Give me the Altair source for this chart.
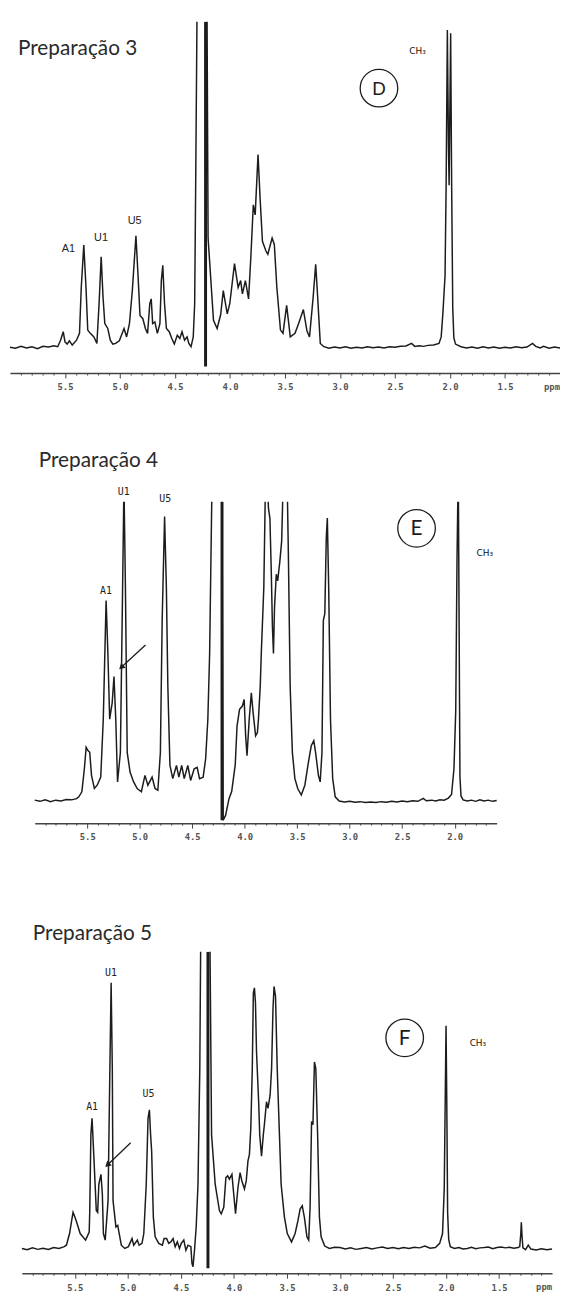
import altair as alt
import pandas as pd

# ---------------- data ----------------
# Panel D (Preparação 3): chemical shift (ppm) and relative intensity (clip level = 100)
D_ppm = [6.00, 5.95, 5.90, 5.85, 5.80, 5.75, 5.70, 5.65, 5.60, 5.566, 5.54, 5.516, 5.50, 5.48, 5.46, 5.434,
         5.395, 5.368, 5.352, 5.329, 5.309, 5.293, 5.27, 5.237, 5.21, 5.19, 5.171, 5.154, 5.138, 5.111,
         5.088, 5.065, 5.039, 5.006, 4.963, 4.94, 4.914, 4.888, 4.855, 4.835, 4.818, 4.792, 4.769, 4.749,
         4.729, 4.716, 4.703, 4.683, 4.66, 4.637, 4.624, 4.611, 4.595, 4.578, 4.552, 4.529, 4.506, 4.479,
         4.456, 4.436, 4.413, 4.39, 4.374, 4.354, 4.334, 4.321, 4.311, 4.298, 4.26, 4.23, 4.209, 4.199,
         4.15, 4.117, 4.085, 4.061, 4.025, 4.002, 3.959, 3.926, 3.903, 3.887, 3.86, 3.831, 3.81, 3.788,
         3.771, 3.745, 3.725, 3.705, 3.673, 3.656, 3.617, 3.597, 3.574, 3.541, 3.518, 3.485, 3.452, 3.409,
         3.376, 3.333, 3.30, 3.277, 3.244, 3.221, 3.208, 3.179, 3.146, 3.10, 3.05, 3.00, 2.95, 2.90, 2.85,
         2.80, 2.75, 2.70, 2.65, 2.60, 2.55, 2.50, 2.45, 2.40, 2.35, 2.32, 2.28, 2.24, 2.20, 2.15, 2.10,
         2.08, 2.065, 2.045, 2.035, 2.024, 2.014, 2.008, 2.002, 1.994, 1.985, 1.975, 1.965, 1.95, 1.90,
         1.85, 1.80, 1.75, 1.70, 1.65, 1.60, 1.55, 1.50, 1.45, 1.40, 1.35, 1.30, 1.25, 1.22, 1.18, 1.15,
         1.10, 1.05, 1.00]
D_int = [0.0, -0.3, 0.3, -0.2, 0.2, -0.4, 0.3, 0.1, 0.5, 0.2, 2.2, 4.8, 1.7, 1.0, 2.0, 0.7,
         2.2, 4.3, 18.4, 31.4, 18.4, 5.3, 4.3, 3.2, 1.2, 13.4, 27.8, 15.4, 7.3, 5.8,
         2.2, 1.0, 1.2, 2.0, 5.8, 3.2, 7.3, 17.4, 34.3, 21.5, 9.8, 8.8, 5.8, 4.3,
         13.4, 14.9, 7.3, 7.8, 4.3, 7.3, 20.5, 25.2, 13.4, 5.8, 4.8, 2.7, 1.0, 3.7,
         2.7, 4.8, 2.2, 3.2, 1.2, 0.2, 3.2, 13.4, 53.9, 110, 250, 250, 105, 33.6,
         8.3, 5.8, 10.0, 17.4, 10.3, 13.4, 25.7, 18.4, 20.5, 16.4, 20.5, 14.9, 28.0, 43.8,
         40.7, 59.2, 45.0, 32.6, 29.6, 28.6, 33.6, 31.6, 18.4, 5.3, 4.3, 12.9, 3.2, 4.3,
         7.3, 11.6, 5.0, 3.2, 15.4, 25.5, 18.4, 1.2, 0.2, -0.3, 0.1, -0.2, 0.2, -0.3, 0.0,
         -0.2, 0.2, -0.1, 0.1, -0.2, 0.2, 0.0, 0.3, 0.4, 1.2, 0.3, 0.5, 0.3, 0.6, 0.7, 1.2,
         3.2, 10.3, 22.0, 50.0, 97.5, 62.0, 49.8, 70.0, 96.5, 50.0, 12.0, 3.0, 1.0, 0.2,
         -0.2, 0.1, -0.3, 0.2, -0.2, 0.1, -0.3, 0.0, -0.2, 0.2, -0.1, 0.1, 1.2, 0.3, -0.2, 0.3,
         -0.3, 0.1, -0.2]

# Panel E (Preparação 4)
E_ppm = [6.00, 5.95, 5.90, 5.85, 5.80, 5.75, 5.70, 5.65, 5.60, 5.58, 5.551, 5.527, 5.51, 5.493, 5.476,
         5.459, 5.432, 5.405, 5.371, 5.347, 5.32, 5.303, 5.286, 5.262, 5.245, 5.228, 5.211, 5.184, 5.167,
         5.15, 5.136, 5.119, 5.092, 5.058, 5.024, 4.984, 4.95, 4.922, 4.882, 4.854, 4.827, 4.803, 4.786,
         4.763, 4.746, 4.732, 4.712, 4.685, 4.65, 4.627, 4.60, 4.576, 4.542, 4.515, 4.481, 4.453, 4.43,
         4.396, 4.372, 4.351, 4.334, 4.31, 4.27, 4.235, 4.218, 4.205, 4.182, 4.15, 4.124, 4.09, 4.073,
         4.049, 4.022, 4.005, 3.991, 3.978, 3.957, 3.937, 3.92, 3.896, 3.879, 3.869, 3.852, 3.842, 3.818,
         3.808, 3.801, 3.784, 3.774, 3.76, 3.747, 3.736, 3.726, 3.716, 3.699, 3.686, 3.665, 3.648, 3.631,
         3.597, 3.584, 3.567, 3.546, 3.522, 3.495, 3.461, 3.427, 3.393, 3.366, 3.342, 3.325, 3.298, 3.281,
         3.264, 3.251, 3.237, 3.223, 3.213, 3.20, 3.183, 3.162, 3.138, 3.10, 3.05, 3.00, 2.95, 2.90, 2.85,
         2.80, 2.75, 2.70, 2.65, 2.60, 2.55, 2.50, 2.45, 2.40, 2.35, 2.30, 2.27, 2.22, 2.18, 2.14, 2.10,
         2.06, 2.03, 2.007, 1.99, 1.978, 1.966, 1.958, 1.95, 1.94, 1.92, 1.88, 1.84, 1.80, 1.76, 1.72,
         1.68, 1.64, 1.60]
E_int = [0.1, -0.3, 0.2, -0.4, 0.1, -0.2, 0.3, 0.2, 0.6, 1.2, 2.9, 10.6, 17.8, 16.7, 16.1,
         8.4, 4.0, 5.1, 7.8, 27.2, 66.9, 49.2, 27.2, 32.7, 41.5, 27.2, 6.2, 16.1, 60.3,
         106, 71.3, 16.1, 9.5, 6.2, 4.0, 2.9, 8.4, 5.1, 7.8, 4.0, 3.4, 16.1, 60.3,
         95.0, 71.3, 38.2, 11.7, 7.3, 11.7, 7.8, 11.7, 7.3, 11.7, 6.7, 10.6, 11.1, 7.3,
         7.8, 13.9, 27.2, 49.2, 110, 200, 200, 120, -6.6, -5.0, 0.5, 3.0, 12.0, 24.9,
         30.5, 31.6, 33.8, 21.6, 15.0, 27.2, 36.0, 29.4, 21.6, 22.7, 27.2, 38.2, 49.2, 71.3,
         93.4, 110, 110, 97.8, 94.5, 76.8, 58.1, 49.2, 64.7, 75.7, 73.5, 80.1, 86.8, 110,
         110, 82.3, 38.2, 16.1, 7.3, 4.0, 1.8, 5.1, 12.8, 18.3, 20.0, 16.1, 8.4, 6.2,
         16.1, 60.3, 62.5, 87.9, 94.5, 71.3, 27.2, 7.3, 1.2, -0.2, -0.5, -0.3, -0.6, -0.4, -0.7,
         -0.5, -0.7, -0.4, -0.6, -0.3, -0.5, -0.2, -0.4, -0.1, -0.3, 0.7, -0.1, 0.1, -0.2, 0.2, 0.1,
         0.8, 2.0, 10.6, 30.0, 80.0, 112, 60.0, 8.0, 1.5, 0.2, -0.2, 0.1, -0.3, 0.2, -0.2,
         0.1, -0.3, 0.0]

# Panel F (Preparação 5)
F_ppm = [6.00, 5.95, 5.90, 5.85, 5.80, 5.75, 5.70, 5.65, 5.60, 5.58, 5.55, 5.53, 5.517, 5.50, 5.483,
         5.45, 5.399, 5.365, 5.36, 5.349, 5.338, 5.322, 5.298, 5.285, 5.274, 5.254, 5.241, 5.231, 5.214,
         5.187, 5.17, 5.158, 5.147, 5.14, 5.113, 5.096, 5.062, 5.029, 4.995, 4.961, 4.945, 4.911, 4.894,
         4.867, 4.85, 4.827, 4.81, 4.797, 4.786, 4.776, 4.76, 4.743, 4.709, 4.675, 4.659, 4.635, 4.615,
         4.595, 4.574, 4.554, 4.534, 4.514, 4.497, 4.473, 4.453, 4.433, 4.406, 4.396, 4.386, 4.372, 4.356,
         4.339, 4.322, 4.312, 4.28, 4.25, 4.228, 4.211, 4.177, 4.137, 4.12, 4.096, 4.076, 4.059, 4.043,
         4.019, 4.002, 3.985, 3.962, 3.942, 3.925, 3.901, 3.884, 3.868, 3.854, 3.841, 3.827, 3.817, 3.807,
         3.797, 3.787, 3.767, 3.757, 3.74, 3.723, 3.713, 3.693, 3.679, 3.659, 3.645, 3.632, 3.622, 3.608,
         3.592, 3.571, 3.555, 3.524, 3.497, 3.457, 3.423, 3.396, 3.376, 3.356, 3.336, 3.312, 3.295, 3.282,
         3.268, 3.255, 3.241, 3.228, 3.211, 3.194, 3.178, 3.144, 3.10, 3.05, 3.00, 2.95, 2.90, 2.85, 2.80,
         2.75, 2.70, 2.65, 2.60, 2.55, 2.50, 2.45, 2.40, 2.35, 2.30, 2.25, 2.20, 2.15, 2.10, 2.06, 2.033,
         2.017, 2.006, 2.000, 1.993, 1.985, 1.975, 1.96, 1.92, 1.88, 1.84, 1.80, 1.76, 1.72, 1.68, 1.64,
         1.60, 1.56, 1.52, 1.48, 1.44, 1.40, 1.36, 1.32, 1.305, 1.295, 1.29, 1.283, 1.275, 1.25, 1.225,
         1.20, 1.15, 1.10, 1.05, 1.00]
F_int = [0.0, -0.4, 0.2, -0.3, 0.1, -0.3, 0.3, 0.0, 0.6, 1.1, 5.0, 9.4, 12.1, 10.5, 8.8,
         5.0, 2.8, 5.5, 12.0, 38.1, 43.6, 31.5, 12.7, 12.1, 21.5, 24.8, 18.2, 5.0, 2.8,
         16.0, 60.2, 88.9, 60.2, 16.0, 7.2, 7.7, 1.1, 0.0, 0.6, 3.3, 1.1, 2.8, 1.1,
         1.7, 5.0, 21.5, 43.6, 46.4, 38.1, 32.6, 10.5, 3.9, 1.7, 1.1, 3.3, 3.3, 1.7,
         2.2, 3.3, 0.6, 2.2, 0.0, 1.7, 2.8, -0.6, 1.1, 0.6, -5.0, -6.1, -0.6, 7.2,
         21.5, 60.2, 110, 200, 200, 110, 38.1, 21.5, 12.7, 11.6, 13.8, 23.7, 24.3, 23.2,
         24.8, 18.2, 11.6, 20.4, 25.4, 22.6, 19.9, 22.6, 29.2, 31.5, 40.3, 60.2, 85.5, 87.2,
         82.2, 65.7, 49.1, 38.1, 30.9, 38.1, 41.4, 49.1, 46.9, 51.3, 60.2, 80.0, 87.7, 84.4,
         60.2, 38.1, 21.5, 10.5, 5.0, 2.2, 5.0, 9.4, 13.2, 14.3, 10.5, 3.9, 2.8, 13.8,
         42.5, 41.4, 62.4, 60.2, 38.1, 10.5, 3.9, 0.8, 0.0, 0.4, 0.3, -0.2, 0.2, -0.3, 0.0,
         0.3, -0.2, 0.2, 0.5, 0.0, 0.3, -0.1, 0.3, 0.0, 0.4, 0.2, 0.8, 0.1, 0.3, 1.7, 5.0,
         20.0, 55.0, 74.5, 49.0, 12.0, 3.0, 0.6, 0.0, 0.3, -0.2, 0.0, 0.4, -0.1, 0.2, 0.3,
         0.5, -0.1, 0.3, 0.5, 0.2, 0.4, 0.1, 0.3, 0.6, 5.0, 8.8, 4.0, 0.2, -0.4, 1.1,
         -0.2, -0.5, -0.1, -0.4, -0.2]

# residual water (HDO) line: position (ppm) and lower end (intensity)
HDO_ppm = [4.222, 4.216, 4.245]
HDO_low = [-5.9, -6.6, -6.6]

TITLES = ["Preparação 3", "Preparação 4", "Preparação 5"]
LETTERS = ["D", "E", "F"]
PEAK_LABELS = ["A1", "U1", "U5"]
CH3_LABEL = "CH₃"

TICKS_FULL = [5.9, 5.8, 5.7, 5.6, 5.5, 5.4, 5.3, 5.2, 5.1, 5.0, 4.9, 4.8, 4.7, 4.6, 4.5, 4.4, 4.3,
              4.2, 4.1, 4.0, 3.9, 3.8, 3.7, 3.6, 3.5, 3.4, 3.3, 3.2, 3.1, 3.0, 2.9, 2.8, 2.7, 2.6,
              2.5, 2.4, 2.3, 2.2, 2.1, 2.0, 1.9, 1.8, 1.7, 1.6, 1.5, 1.4, 1.3, 1.2, 1.1]
TICKS_E = [5.9, 5.8, 5.7, 5.6, 5.5, 5.4, 5.3, 5.2, 5.1, 5.0, 4.9, 4.8, 4.7, 4.6, 4.5, 4.4, 4.3,
           4.2, 4.1, 4.0, 3.9, 3.8, 3.7, 3.6, 3.5, 3.4, 3.3, 3.2, 3.1, 3.0, 2.9, 2.8, 2.7, 2.6,
           2.5, 2.4, 2.3, 2.2, 2.1, 2.0, 1.9, 1.8, 1.7]

# ---------------- styling ----------------
INK = "#1c1c1c"
W = 556
MAJOR = "abs(datum.value*2 - round(datum.value*2)) < 0.001"
ONE = alt.Data(values=[{}])


def make_axis(ticks):
    return alt.Axis(
        values=ticks,
        labelExpr=f"({MAJOR}) && datum.value < 5.8 && datum.value > 1.2 ? format(datum.value, '.1f') : ''",
        tickSize={"condition": {"test": MAJOR, "value": 5}, "value": 2},
        labelOverlap=False, labelFlush=False, grid=False, title=None,
        domainColor="#444", domainWidth=1.5, tickColor="#444", tickWidth=1,
        labelFont="DejaVu Sans Mono", labelFontSize=9, labelFontWeight="bold",
        labelColor="#555", labelPadding=5,
    )


def txt(s, x, y, font, size, weight="normal", align="center", baseline="middle", color=INK):
    return alt.Chart(ONE).mark_text(font=font, fontSize=size, fontWeight=weight, align=align,
                                    baseline=baseline, color=color).encode(
        x=alt.value(x), y=alt.value(y), text=alt.value(s))


def panel(ppm, inten, hdo_x, hdo_low, ydom, h, xdom, xrng, ticks, title, title_xy,
          lab_xy, lab_font, lab_size, lab_weight, ch3_xy, circ_xy, letter, letter_font,
          letter_size, arrow=None, ppm_xy=None):
    xs = alt.Scale(domain=xdom, range=xrng)
    ys = alt.Scale(domain=ydom)
    ax = make_axis(ticks)
    df = pd.DataFrame({"ppm": ppm, "intensity": inten})
    hdo = pd.DataFrame({"ppm": [hdo_x], "intensity": [hdo_low]})
    line = alt.Chart(df).mark_line(color=INK, strokeWidth=1.5, clip=True).encode(
        x=alt.X("ppm:Q", scale=xs, axis=ax), y=alt.Y("intensity:Q", scale=ys, axis=None))
    water = alt.Chart(hdo).mark_rule(color=INK, strokeWidth=3, clip=True).encode(
        x=alt.X("ppm:Q", scale=xs, axis=ax), y=alt.Y("intensity:Q", scale=ys, axis=None),
        y2=alt.value(0))
    layers = [line, water]
    layers.append(txt(title, title_xy[0], title_xy[1], "Lato", 21, align="left",
                      baseline="alphabetic", color="#2a2a2a"))
    for s, (x, y) in zip(PEAK_LABELS, lab_xy):
        layers.append(txt(s, x, y, lab_font, lab_size, weight=lab_weight, color="#222"))
    layers.append(txt(CH3_LABEL, ch3_xy[0], ch3_xy[1], "DejaVu Sans", 9, color="#111"))
    layers.append(alt.Chart(ONE).mark_point(shape="circle", size=1444, filled=False,
                                            stroke=INK, strokeWidth=1.3, opacity=1).encode(
        x=alt.value(circ_xy[0]), y=alt.value(circ_xy[1])))
    layers.append(txt(letter, circ_xy[0], circ_xy[1] + 1, letter_font, letter_size))
    if arrow is not None:
        (x1, y1), (x2, y2) = arrow
        layers.append(alt.Chart(ONE).mark_rule(color=INK, strokeWidth=1.3).encode(
            x=alt.value(x1), y=alt.value(y1), x2=alt.value(x2 + 2), y2=alt.value(y2 - 2)))
        layers.append(alt.Chart(ONE).mark_point(shape="triangle-up", filled=True, size=45,
                                                angle=227, color=INK, opacity=1).encode(
            x=alt.value(x2 + 2.5), y=alt.value(y2 - 2.5)))
    if ppm_xy is not None:
        layers.append(txt("ppm", ppm_xy[0], ppm_xy[1], "DejaVu Sans Mono", 9, weight="bold",
                          align="right", color="#555"))
    return alt.layer(*layers).properties(width=W, height=h)


pD = panel(D_ppm, D_int, HDO_ppm[0], HDO_low[0], [-7.9, 100], 355, [6.0, 1.0], [0, 556],
           TICKS_FULL, TITLES[0], (8, 33),
           [(59, 230), (92, 219), (126, 201)], "Liberation Sans", 11, "normal",
           (412, 29), (373, 67), LETTERS[0], "Liberation Sans", 19,
           ppm_xy=(556, 369))

pE = panel(E_ppm, E_int, HDO_ppm[1], HDO_low[1], [-7.6, 100], 325, [6.0, 1.6], [25, 492],
           TICKS_E, TITLES[1], (29, -35),
           [(97, 90), (115, -10), (157, -3)], "DejaVu Sans Mono", 10, "normal",
           (480, 52), (411, 27), LETTERS[1], "Lato", 21,
           arrow=((137, 145), (110, 170)))

pF = panel(F_ppm, F_int, HDO_ppm[2], HDO_low[2], [-8.3, 99.3], 325, [6.0, 1.0], [12, 548],
           TICKS_FULL, TITLES[2], (23, -12),
           [(83, 157), (102, 22), (140, 144)], "DejaVu Sans Mono", 10, "normal",
           (473, 92), (399, 87), LETTERS[2], "Lato", 21,
           arrow=((122, 193), (96, 218)), ppm_xy=(548, 339))

chart = alt.vconcat(pD, pE, pF, spacing=130, bounds="flush").properties(
    padding={"left": 2, "top": 7, "right": 0, "bottom": 0}
).configure_view(stroke=None)

chart.save("out.html", embed_options={"renderer": "svg", "actions": False})
